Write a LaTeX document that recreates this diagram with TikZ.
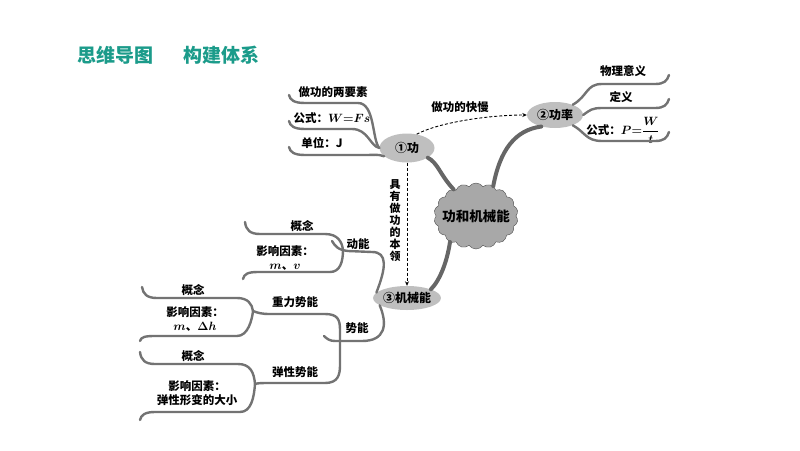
\documentclass[tikz,border=0pt]{standalone}
\usepackage{fontspec}
\setmainfont{Noto Sans CJK SC}
\usetikzlibrary{shapes.geometric,shapes.symbols,arrows.meta}
\definecolor{titlegreen}{RGB}{27,155,138}
\begin{document}
\begin{tikzpicture}
                            [x=1pt,y=-1pt,
                            lbl/.style = {font=\fontsize{11.5}{13.5}\selectfont\bfseries\boldmath,
                                        inner sep=1pt, align=center},
                            oval/.style = {ellipse, fill=gray!50, inner sep=0pt,
                                        font=\fontsize{12}{14}\selectfont\bfseries},
                            branch/.style = {draw=black!55, line width=2.4pt,
                                        line cap=round},
                            trunk/.style = {draw=black!60, line width=4pt,
                                        line cap=round},
                            hint/.style = {densely dashed, line width=0.9pt,
                                        -{Stealth[length=4.5pt,width=4pt]}}]
                            \useasboundingbox (0,0) rectangle (800,450);
                            \node[anchor=west, text=titlegreen,
                                font=\fontsize{19}{22}\selectfont\bfseries] (title) at (74,55)
                                {思维导图\hspace{30pt}构建体系};
                            % Centro
                            \node[cloud, cloud puffs=18, cloud puff arc=110, cloud ignores aspect,
                                draw=black!70, fill=gray!68, inner sep=-9pt,
                                minimum width=84, minimum height=66,
                                font=\fontsize{13.5}{16}\selectfont\bfseries] (main) at (476,216) {功和机械能};
                            \node[oval, minimum width=55, minimum height=29] (gong) at (407,148) {①功};
                            \node[oval, minimum width=56, minimum height=26] (gong2) at (555,115) {②功率};
                            \node[oval, minimum width=60, minimum height=24] (jxn) at (407,298) {③机械能};
                            \draw[trunk] (main.130) .. controls (440,175) and (438,163) .. (gong.-25);
                            \draw[trunk] (main.60) .. controls (500,150) and (515,130) .. (gong2.220);
                            \draw[trunk] (main.225) .. controls (447,262) and (440,280) .. (jxn.20);
                            % Flechas
                            \node[lbl] (kuaiman) at (460,107) {做功的快慢};
                            \draw[hint] (gong.55) .. controls (440,122) and (490,115) .. (gong2.west);
                            \node[lbl, font=\fontsize{11}{12}\selectfont\bfseries] (benling) at (395,221)
                                {具\\有\\做\\功\\的\\本\\领};
                            \draw[hint] (gong.south) -- (jxn.north);
                            % Rama 1
                            \node[lbl] (a1) at (333,92) {做功的两要素};
                            \node[lbl] (a2) at (332,118) {公式：$W{=}Fs$};
                            \node[lbl] (a3) at (322,143) {单位：J};
                            \draw[branch] (289,95) .. controls (290,100) and (294,103) .. (305,103)
                                -- (358,103) .. controls (375,103) and (372,140) .. (gong.west);
                            \draw[branch] (289,121) .. controls (290,126) and (294,129) .. (305,129)
                                -- (352,129) .. controls (368,129) and (370,146) .. (gong.west);
                            \draw[branch] (289,147) .. controls (290,152) and (294,155) .. (305,155)
                                -- (366,155) .. controls (374,155) and (378,154) .. (gong.200);
                            % Rama 2
                            \node[lbl] (b1) at (623,71) {物理意义};
                            \node[lbl] (b2) at (621,97) {定义};
                            \node[lbl] (b3) at (623,130) {公式：$P{=}\displaystyle\frac{W}{t}$};
                            \draw[branch] (gong2.30) .. controls (588,96) and (586,84) .. (602,84)
                                -- (655,84) .. controls (664,84) and (667,81) .. (669,75);
                            \draw[branch] (gong2.east) .. controls (590,110) and (592,108) .. (602,108)
                                -- (655,108) .. controls (664,108) and (667,105) .. (669,99);
                            \draw[branch] (gong2.-30) .. controls (585,132) and (586,141) .. (602,141)
                                -- (655,141) .. controls (664,141) and (667,138) .. (669,132);
                            % Rama 3
                            \coordinate (jD) at (343,250);
                            \coordinate (jS) at (340,341);
                            \coordinate (jG) at (253,311);
                            \coordinate (jT) at (255,384);
                            \node[lbl] (c1) at (358,244) {动能};
                            \node[lbl] (c2) at (357,328) {势能};
                            \draw[branch] (jxn.170) .. controls (386,268) and (388,252) .. (372,252)
                                -- (348,251) .. controls (338,250) and (335,246) .. (332,241);
                            \draw[branch] (jxn.195) .. controls (388,325) and (385,341) .. (362,341)
                                -- (335,341) .. controls (330,341) and (327,339) .. (324,336);
                            % Energía cinética
                            \node[lbl] (d1) at (302,226) {概念};
                            \node[lbl] (d2) at (285,258) {影响因素：\\$m$、$v$};
                            \draw[branch] (245,222) .. controls (246,230) and (250,234) .. (260,234)
                                -- (325,234) .. controls (338,234) and (342,242) .. (jD);
                            \draw[branch] (243,279) .. controls (244,274) and (248,272) .. (258,272)
                                -- (330,272) .. controls (340,272) and (343,262) .. (jD);
                            % Energía potencial
                            \node[lbl] (e1) at (295,302) {重力势能};
                            \node[lbl] (e2) at (295,372) {弹性势能};
                            \draw[branch] (jG) .. controls (258,313) and (262,314) .. (270,314)
                                -- (325,314) .. controls (338,314) and (340,320) .. (340,330) -- (jS);
                            \draw[branch] (jT) .. controls (258,383) and (262,383) .. (270,383)
                                -- (325,383) .. controls (338,383) and (340,375) .. (340,365) -- (jS);
                            \node[lbl] (f1) at (193,290) {概念};
                            \node[lbl] (f2) at (195,319) {影响因素：\\$m$、$\Delta h$};
                            \draw[branch] (142,287) .. controls (143,294) and (147,298) .. (157,298)
                                -- (237,298) .. controls (248,298) and (252,304) .. (jG);
                            \draw[branch] (140,341) .. controls (141,337) and (145,336) .. (155,336)
                                -- (237,336) .. controls (248,336) and (252,320) .. (jG);
                            \node[lbl] (g1) at (193,356) {概念};
                            \node[lbl] (g2) at (197,393) {影响因素：\\弹性形变的大小};
                            \draw[branch] (140,352) .. controls (141,360) and (145,364) .. (155,364)
                                -- (238,364) .. controls (250,364) and (254,372) .. (jT);
                            \draw[branch] (140,420) .. controls (141,415) and (145,412) .. (155,412)
                                -- (240,412) .. controls (251,412) and (254,398) .. (jT);
                        \end{tikzpicture}
\end{document}
